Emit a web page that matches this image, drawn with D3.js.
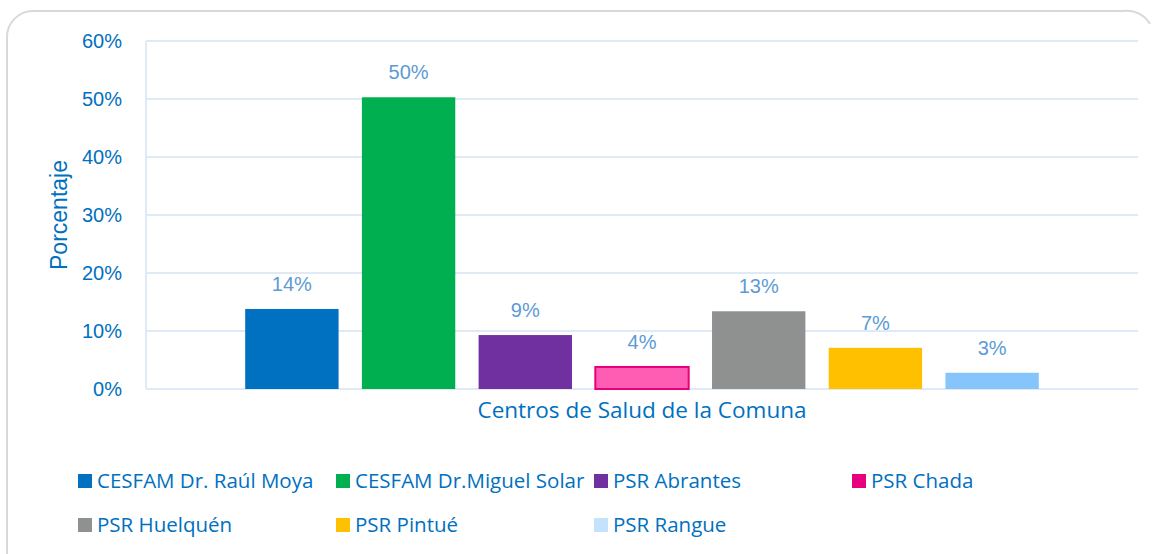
<!DOCTYPE html>
<html>
<head>
<meta charset="utf-8">
<script src="https://cdn.jsdelivr.net/npm/d3@7"></script>
<style>
  body { margin: 0; background: #fff; }
  svg { display: block; }
</style>
</head>
<body>
<svg width="1156" height="554"></svg>
<script>
var series = ["CESFAM Dr. Raúl Moya", "CESFAM Dr.Miguel Solar", "PSR Abrantes", "PSR Chada",
              "PSR Huelquén", "PSR Pintué", "PSR Rangue"];
var values = [0.138, 0.503, 0.093, 0.038, 0.134, 0.071, 0.028];
var labels = ["14%", "50%", "9%", "4%", "13%", "7%", "3%"];
var colors = ["#0070c0", "#00b050", "#7030a0", "#ff5cb3", "#8e9190", "#ffc000", "#86c5fb"];
var legendColors = ["#0070c0", "#00b050", "#7030a0", "#e6007e", "#8e9190", "#ffc000", "#c5e2fc"];
var yTicks = [0, 0.1, 0.2, 0.3, 0.4, 0.5, 0.6];

var svg = d3.select("svg"),
    margin = {top: 41, right: 18, bottom: 165, left: 146},
    width = 1156 - margin.left - margin.right,
    height = 554 - margin.top - margin.bottom;

var axisBlue = "#0070c0",
    gridColor = "#dfeaf6";

// card border
svg.append("path")
    .attr("d", "M7,560 V37 A26,26 0 0 1 33,11 H1124 A26,26 0 0 1 1150,24")
    .attr("fill", "none")
    .attr("stroke", "#d9d9d9")
    .attr("stroke-width", 2);

var x = d3.scaleBand()
    .domain(series)
    .range([0, width])
    .paddingInner(0.2)
    .paddingOuter(0.85);

var y = d3.scaleLinear()
    .domain([0, 0.6])
    .range([height, 0]);

var g = svg.append("g")
    .attr("transform", "translate(" + margin.left + "," + margin.top + ")");

// gridlines
g.append("g")
    .selectAll("line").data(yTicks).enter().append("line")
    .attr("x1", 0)
    .attr("x2", width)
    .attr("y1", function(d) { return y(d); })
    .attr("y2", function(d) { return y(d); })
    .attr("stroke", gridColor)
    .attr("stroke-width", 2);

g.append("line")
    .attr("x1", 0).attr("x2", 0)
    .attr("y1", 0).attr("y2", height)
    .attr("stroke", gridColor)
    .attr("stroke-width", 2);

// y axis labels
var yAxis = g.append("g")
    .call(d3.axisLeft(y).tickValues(yTicks).tickFormat(d3.format(".0%")).tickSize(0).tickPadding(24));
yAxis.select(".domain").remove();
yAxis.selectAll("text")
    .attr("fill", axisBlue)
    .style("font-family", "'Liberation Sans', Arial, sans-serif")
    .style("font-size", "20px");

// bars
g.selectAll(".bar").data(series).enter().append("rect")
    .attr("class", "bar")
    .attr("x", function(d) { return x(d); })
    .attr("width", x.bandwidth())
    .attr("y", function(d, i) { return y(values[i]); })
    .attr("height", function(d, i) { return height - y(values[i]); })
    .attr("fill", function(d, i) { return colors[i]; })
    .attr("stroke", function(d, i) { return i === 3 ? "#e6007e" : "none"; })
    .attr("stroke-width", 2);

// value labels
g.selectAll(".lbl").data(series).enter().append("text")
    .attr("class", "lbl")
    .attr("x", function(d) { return x(d) + x.bandwidth() / 2; })
    .attr("y", function(d, i) { return y(values[i]) - 18; })
    .attr("text-anchor", "middle")
    .attr("fill", "#5b9bd5")
    .style("font-family", "'Liberation Sans', Arial, sans-serif")
    .style("font-size", "20px")
    .text(function(d, i) { return labels[i]; });

// axis titles
svg.append("text")
    .attr("transform", "translate(67," + (margin.top + height / 2) + ") rotate(-90)")
    .attr("text-anchor", "middle")
    .attr("fill", axisBlue)
    .style("font-family", "'Liberation Sans', Arial, sans-serif")
    .style("font-size", "23px")
    .text("Porcentaje");

svg.append("text")
    .attr("x", margin.left + width / 2)
    .attr("y", margin.top + height + 29)
    .attr("text-anchor", "middle")
    .attr("fill", axisBlue)
    .style("font-family", "'Open Sans', sans-serif")
    .style("font-size", "22.5px")
    .text("Centros de Salud de la Comuna");

// legend: 4 columns, 258px apart
var legendX0 = 78, legendStep = 258,
    legendRows = [481, 525];

var item = svg.append("g").selectAll("g").data(series).enter().append("g")
    .attr("transform", function(d, i) {
      return "translate(" + (legendX0 + (i % 4) * legendStep) + "," + legendRows[Math.floor(i / 4)] + ")";
    });

item.append("rect")
    .attr("x", 0)
    .attr("y", -7)
    .attr("width", 14)
    .attr("height", 14)
    .attr("fill", function(d, i) { return legendColors[i]; });

item.append("text")
    .attr("x", 19)
    .attr("y", 0)
    .attr("dy", "0.35em")
    .attr("fill", axisBlue)
    .style("font-family", "'Open Sans', sans-serif")
    .style("font-size", "20.5px")
    .text(function(d) { return d; });
</script>
</body>
</html>
